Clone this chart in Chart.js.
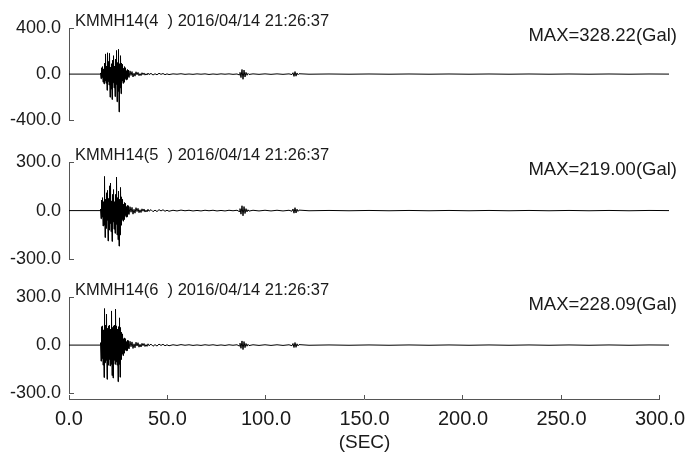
<!DOCTYPE html>
<html>
<head>
<meta charset="utf-8">
<script src="https://cdn.jsdelivr.net/npm/chart.js@4/dist/chart.umd.min.js"></script>
<style>
  body { margin: 0; background: #fff; }
  #wrap { position: relative; width: 693px; height: 454px; background: #fff; }
  #wrap canvas { position: absolute; left: 0; }
</style>
</head>
<body>
<div id="wrap">
  <canvas id="panel1" width="693" height="139" style="top:0px"></canvas>
  <canvas id="panel2" width="693" height="144" style="top:134px"></canvas>
  <canvas id="panel3" width="693" height="143" style="top:269px"></canvas>
  <canvas id="timeAxis" width="693" height="64" style="top:390px"></canvas>
</div>
<script>
// sample times (sec), shared by the three components
const SECONDS = [
    0, 10, 15.5,
    15.75, 16, 16.25, 16.5, 16.75, 17, 17.25, 17.5, 17.75, 18, 18.25, 18.5, 18.75, 19, 19.25, 19.5, 19.75, 20,
    20.25, 20.5, 20.75, 21, 21.25, 21.5, 21.75, 22, 22.25, 22.5, 22.75, 23, 23.25, 23.5, 23.75, 24,
    24.25, 24.5, 24.75, 25, 25.25, 25.5, 25.75, 26, 26.25, 26.5, 26.75, 27, 27.25, 27.5, 27.75, 28,
    28.25, 28.5, 28.75, 29, 29.25, 29.5, 29.75, 30,
    30.5, 31, 31.5, 32, 32.5, 33, 33.5, 34, 34.5, 35, 35.5, 36, 36.5, 37, 37.5, 38, 38.5, 39, 39.5, 40,
    41, 42, 43, 44, 45, 46, 47, 48, 49, 50,
    52, 54, 56, 58, 60, 62, 64, 66, 68, 70, 72, 74, 76, 78, 80, 82, 84,
    85, 85.5, 86, 86.5, 87, 87.5, 88, 88.5, 89, 89.5, 90,
    92, 95, 98, 101, 104, 107, 110,
    111.5, 112, 112.5, 113, 113.5, 114, 114.5, 115,
    120, 130, 140, 150, 160, 170, 180, 190, 200, 210, 220, 230, 240, 250, 260, 270, 280, 290, 300
]

// acceleration (Gal)
const ACC_CH4 = [
    0, 0, 0,
    10, -40, 55, -30, 65, -70, 45, -85, 95, -60, 175, -80, 70, -140, 185, -65, 110, -95,
    180, -200, 60, -130, 90, -220, 120, -75, 160, -120, 70, -195, 130, -90, 205, -240,
    100, -150, 215, -328, 90, -120, 160, -170, 95, -60, 85, -80, 50, -70, 65, -40,
    55, -50, 30, -45, 40, -20, 35, -30,
    28, -12, 22, -25, 8, -18, 20, -6, 15, -14, 4, -13, 12, -5, 10, -9, 3, -8, 9, -4,
    6, -8, 3, -6, 7, -2, 5, -5, 2, -4,
    2, -1, 3, -2, 1, -2, 2, -1, 2, -3, 1, -2, 2, -1, 2, -2, 1,
    -6, 15, -30, 40, -45, 35, -25, 15, -10, 6, -3,
    2, -2, 2, -2, 2, -2, 2,
    -4, 12, -20, 22, -18, 10, -6, 3,
    -1, 1, -1, 1, -1, 1, -1, 1, -1, 1, -1, 1, -1, 1, -1, 1, -1, 1, 0
]

const ACC_CH5 = [
    0, 0, 0,
    10, -50, 65, -40, 80, -95, 55, -90, 211, -166, 70, -110, 110, -60, 125, -187, 75, -120,
    153, -80, 170, -130, 60, -190, 100, -70, 130, -115, 55, -140, 100, -85, 207, -150,
    80, -180, 120, -219, 70, -150, 143, -90, 85, -55, 70, -65, 40, -55, 50, -30,
    45, -40, 25, -38, 32, -20, 30, -24,
    24, -10, 20, -22, 8, -16, 18, -6, 14, -13, 5, -12, 11, -4, 10, -9, 3, -8, 8, -4,
    6, -7, 3, -6, 6, -2, 5, -4, 2, -4,
    2, -2, 3, -1, 2, -2, 1, -2, 2, -1, 2, -2, 1, -2, 2, -1, 2,
    -5, 12, -22, 30, -32, 25, -18, 12, -8, 5, -3,
    2, -2, 2, -2, 2, -2, 2,
    -4, 10, -16, 18, -15, 9, -5, 3,
    -1, 1, -1, 1, -1, 1, -1, 1, -1, 1, -1, 1, -1, 1, -1, 1, -1, 1, 0
]

const ACC_CH6 = [
    0, 0, 0,
    15, -100, 115, -85, 120, -125, 95, -202, 228, -110, 125, -95, 193, -213, 105, -125, 120, -90,
    125, -130, 100, -120, 213, -190, 110, -205, 120, -95, 125, -120, 224, -105, 120, -125,
    100, -228, 115, -120, 170, -200, 110, -90, 80, -55, 70, -65, 40, -50, 45, -30,
    40, -35, 22, -34, 30, -18, 28, -24,
    24, -10, 20, -21, 8, -17, 18, -6, 15, -13, 5, -12, 11, -4, 10, -9, 3, -8, 8, -4,
    6, -7, 3, -6, 6, -2, 5, -4, 2, -4,
    2, -2, 3, -1, 2, -2, 1, -2, 2, -1, 2, -2, 1, -2, 2, -1, 2,
    -5, 12, -20, 26, -28, 22, -16, 10, -7, 5, -3,
    2, -2, 2, -2, 2, -2, 2,
    -4, 10, -15, 16, -14, 8, -5, 3,
    -1, 1, -1, 1, -1, 1, -1, 1, -1, 1, -1, 1, -1, 1, -1, 1, -1, 1, 0
]

const STATION_LABELS = ['KMMH14(4  ) 2016/04/14 21:26:37', 'KMMH14(5  ) 2016/04/14 21:26:37', 'KMMH14(6  ) 2016/04/14 21:26:37']
const MAX_LABELS = ['MAX=328.22(Gal)', 'MAX=219.00(Gal)', 'MAX=228.09(Gal)']
const Y_LIMITS = [400, 300, 300]
const TIME_TICKS = [0, 50, 100, 150, 200, 250, 300]

const AXIS_COLOR = '#555'
const TEXT_COLOR = '#1a1a1a'
const FONT_FAMILY = '"Liberation Sans", Arial, Helvetica, sans-serif'

Chart.defaults.font.family = FONT_FAMILY
Chart.defaults.font.size = 18
Chart.defaults.color = TEXT_COLOR

// station name, MAX text and the little inward ticks at the ends of the y axis
const panelDecor = {
    id: 'panelDecor',
    afterDraw(chart, args, opts) {
        const ctx = chart.ctx
        const area = chart.chartArea
        const y = chart.scales.y
        ctx.save()
        ctx.strokeStyle = AXIS_COLOR
        ctx.lineWidth = 1
        ctx.beginPath()
        for (const v of [y.min, y.max]) {
            const py = Math.round(y.getPixelForValue(v)) + 0.5
            ctx.moveTo(area.left, py)
            ctx.lineTo(area.left + 5, py)
        }
        ctx.stroke()

        ctx.fillStyle = TEXT_COLOR
        ctx.textBaseline = 'alphabetic'
        ctx.textAlign = 'left'
        ctx.font = '16.5px ' + FONT_FAMILY
        ctx.fillText(opts.station, area.left + 6, area.top - 2)
        ctx.textAlign = 'right'
        ctx.font = '18.5px ' + FONT_FAMILY
        ctx.fillText(opts.max, area.right + 8, area.top + 13)
        ctx.restore()
    }
}

function makePanel(canvasId, values, limit, station, maxText) {
    const points = SECONDS.map((t, i) => ({x: t, y: values[i]}))
    return new Chart(document.getElementById(canvasId), {
        type: 'line',
        data: {
            datasets: [{
                data: points,
                borderColor: '#000',
                borderWidth: 1,
                pointRadius: 0,
                tension: 0,
                fill: false
            }]
        },
        options: {
            responsive: false,
            animation: false,
            layout: { padding: { top: 28, bottom: 8, left: 0, right: 24 } },
            plugins: {
                legend: { display: false },
                tooltip: { enabled: false },
                panelDecor: { station: station, max: maxText }
            },
            scales: {
                x: { type: 'linear', min: 0, max: 300, display: false },
                y: {
                    type: 'linear',
                    min: -limit,
                    max: limit,
                    afterBuildTicks: (scale) => {
                        scale.ticks = [-limit, 0, limit].map((v) => ({value: v}))
                    },
                    afterFit: (scale) => { scale.width = 69 },
                    ticks: {
                        padding: 8,
                        callback: (value) => value.toFixed(1)
                    },
                    grid: { drawOnChartArea: false, drawTicks: false },
                    border: { display: true, color: AXIS_COLOR, width: 1 }
                }
            }
        },
        plugins: [panelDecor]
    })
}

makePanel('panel1', ACC_CH4, Y_LIMITS[0], STATION_LABELS[0], MAX_LABELS[0])
makePanel('panel2', ACC_CH5, Y_LIMITS[1], STATION_LABELS[1], MAX_LABELS[1])
makePanel('panel3', ACC_CH6, Y_LIMITS[2], STATION_LABELS[2], MAX_LABELS[2])

// shared time axis under the panels
new Chart(document.getElementById('timeAxis'), {
    type: 'line',
    data: { datasets: [] },
    options: {
        responsive: false,
        animation: false,
        layout: { padding: { top: 5, bottom: 0, left: 69, right: 24 } },
        plugins: { legend: { display: false }, tooltip: { enabled: false } },
        scales: {
            x: {
                type: 'linear',
                min: 0,
                max: 300,
                afterBuildTicks: (scale) => {
                    scale.ticks = TIME_TICKS.map((v) => ({value: v}))
                },
                afterFit: (scale) => { scale.height = 55 },
                ticks: {
                    padding: 8,
                    maxRotation: 0,
                    autoSkip: false,
                    font: { size: 20 },
                    callback: (value) => value.toFixed(1)
                },
                grid: { drawOnChartArea: true, drawTicks: false, color: AXIS_COLOR },
                border: { display: true, color: AXIS_COLOR, width: 1 },
                title: { display: true, text: '(SEC)', padding: { top: 0, bottom: 0 }, font: { size: 19 } }
            },
            y: { display: false, min: 0, max: 1 }
        }
    }
})
</script>
</body>
</html>
